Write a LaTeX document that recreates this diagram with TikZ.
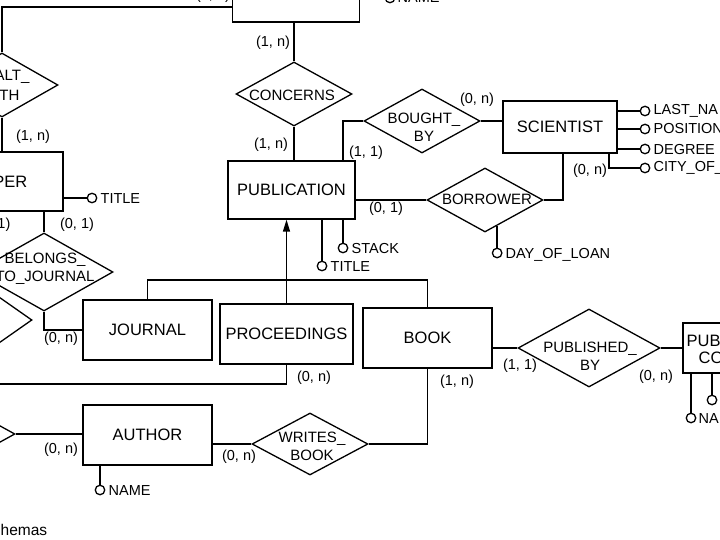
\documentclass[tikz,border=0pt]{standalone}
\usepackage{fontspec}
\setmainfont{Liberation Sans}
\usetikzlibrary{shapes.geometric,arrows.meta,calc}
\begin{document}
\begin{tikzpicture}[x=1pt,y=-1pt,line width=1.3pt,
  ent/.style n args={2}{draw,rectangle,minimum width=#1,minimum height=#2,inner sep=0pt,font=\fontsize{16.5}{18}\selectfont},
  rel/.style n args={2}{draw,diamond,minimum width=#1,minimum height=#2,inner sep=0pt},
  rtext/.style={font=\fontsize{15}{18}\selectfont,align=center,inner sep=0pt},
  etext/.style={font=\fontsize{16.5}{18}\selectfont,inner sep=0pt},
  card/.style={font=\fontsize{14.5}{16}\selectfont,inner sep=0pt},
  atxt/.style={font=\fontsize{14.5}{16}\selectfont,inner sep=0pt,anchor=west},
  att/.style={draw,circle,fill=white,inner sep=0pt,minimum size=9.5pt,line width=1.3pt},
]
\useasboundingbox (0,0) rectangle (720,540);

% entities
\node[ent={127}{58}] (topbox) at (296,-7) {};
\node[ent={122}{59}] (per) at (2,181.5) {};
\node[etext,anchor=east] (pert) at (28,182) {PER};
\node[ent={127}{58}] (pub) at (291.5,190) {PUBLICATION};
\node[ent={114}{52}] (sci) at (560,127) {SCIENTIST};
\node[ent={129}{60}] (jour) at (147.5,330) {JOURNAL};
\node[ent={133}{60}] (proc) at (286.5,334) {PROCEEDINGS};
\node[ent={129}{60}] (book) at (427.5,338) {BOOK};
\node[ent={129}{60}] (auth) at (147.5,435) {AUTHOR};
\node[ent={130}{50}] (pubco) at (748,348) {};
\node[etext,anchor=west] (pubcot1) at (686,341) {PUB};
\node[etext,anchor=west] (pubcot2) at (698,358) {CO};

% relationships
\node[rel={112}{64}] (alt) at (2,85) {};
\node[rtext,anchor=east] (altt1) at (30,77) {ALT\_};
\node[rtext,anchor=east] (altt2) at (20,95) {TH};
\node[rel={116}{64}] (conc) at (294,94) {};
\node[rtext] (conct) at (292,95) {CONCERNS};
\node[rel={116}{64}] (bought) at (422,121) {};
\node[rtext] (boughtt) at (424,127) {BOUGHT\_\\BY};
\node[rel={116}{64}] (borrow) at (485,200) {};
\node[rtext] (borrowt) at (487,199) {BORROWER};
\node[rel={138}{78}] (belongs) at (44,272) {};
\node[rtext] (belongst) at (45,269) {BELONGS\_\\TO\_JOURNAL};
\node[rel={94}{66}] (bl2) at (-15,320) {};
\node[rel={116}{64}] (bl3) at (-43,434) {};
\node[rel={142}{78}] (publ) at (589,348) {};
\node[rtext] (publt) at (590,356) {PUBLISHED\_\\BY};
\node[rel={116}{62}] (writes) at (310,444) {};
\node[rtext] (writest) at (312,446) {WRITES\_\\BOOK};

% connectors
\draw (alt.north) |- (topbox.west |- 0,7);
\draw (alt.south) -- (alt.south |- per.north);
\draw (belongs.north |- per.south) -- (belongs.north);
\draw (belongs.south) |- (jour.west);
\draw (bl3.east) -- (bl3.east -| auth.west);
\coordinate (pl) at (-10,384);
\draw (proc.south) |- (pl);
\coordinate (gen) at (proc.north |- 0,280);
\draw (jour.north) |- (gen) -| (book.north);
\draw[-{Triangle[length=12pt,width=7pt]}] (proc.north) -- (proc.north |- pub.south);
\draw (conc.north) -- (conc.north |- topbox.south);
\draw (conc.south) -- (conc.south |- pub.north);
\draw (343,0 |- pub.north) |- (bought.west);
\draw (bought.east) -- (bought.east -| sci.west);
\draw (borrow.west -| pub.east) -- (borrow.west);
\draw (borrow.east) -| (563,0 |- sci.south);
\draw (publ.west -| book.east) -- (publ.west);
\draw (publ.east) -- (publ.east -| pubco.west);
\draw (writes.west -| auth.east) -- (writes.west);
\draw (writes.east) -| (book.south);

% attributes
\node[att] (tname) at (390,-2) {};
\draw (topbox.east |- tname) -- (tname);
\node[atxt] (tnamet) at (397,-2) {NAME};
\node[att] (ptitle0) at (92,198) {};
\draw (per.east |- ptitle0) -- (ptitle0);
\node[atxt] (ptitle0t) at (100,199) {TITLE};
\node[att] (pstack) at (343,248) {};
\draw (pstack |- pub.south) -- (pstack);
\node[atxt] (pstackt) at (351,249) {STACK};
\node[att] (ptitle) at (322,266) {};
\draw (ptitle |- pub.south) -- (ptitle);
\node[atxt] (ptitlet) at (330,267) {TITLE};
\node[att] (sa1) at (645,111) {};
\draw (sci.east |- sa1) -- (sa1);
\node[atxt] (sa1t) at (653,111) {LAST\_NA};
\node[att] (sa2) at (645,129) {};
\draw (sci.east |- sa2) -- (sa2);
\node[atxt] (sa2t) at (653,129) {POSITION};
\node[att] (sa3) at (645,149) {};
\draw (sci.east |- sa3) -- (sa3);
\node[atxt] (sa3t) at (653,150) {DEGREE};
\node[att] (sa4) at (645,168) {};
\draw (609,0 |- sci.south) |- (sa4);
\node[atxt] (sa4t) at (653,168) {CITY\_OF\_};
\coordinate (bd) at ($(borrow.south)!0.207!(borrow.east)$);
\node[att] (day) at (bd |- 0,253) {};
\draw (bd) -- (day);
\node[atxt] (dayt) at (505,255) {DAY\_OF\_LOAN};
\node[att] (pcn) at (691,418) {};
\draw (pcn |- pubco.south) -- (pcn);
\node[atxt] (pcnt) at (698,419) {NA};
\node[att] (pca) at (712,400) {};
\draw (pca |- pubco.south) -- (pca);
\node[att] (aname) at (100,490) {};
\draw (aname |- auth.south) -- (aname);
\node[atxt] (anamet) at (108,491) {NAME};

% cardinalities
\node[card] at (213,-4) {(1, n)};
\node[card] at (273,43) {(1, n)};
\node[card] at (271,145) {(1, n)};
\node[card] at (366,153) {(1, 1)};
\node[card] at (477,100) {(0, n)};
\node[card] at (590,171) {(0, n)};
\node[card] at (386,209) {(0, 1)};
\node[card] at (33,137) {(1, n)};
\node[card] at (77,225) {(0, 1)};
\node[card,anchor=east] at (11,225) {1)};
\node[card] at (61,339) {(0, n)};
\node[card] at (314,378) {(0, n)};
\node[card] at (457,382) {(1, n)};
\node[card] at (520,366) {(1, 1)};
\node[card] at (656,377) {(0, n)};
\node[card] at (61,450) {(0, n)};
\node[card] at (239,457) {(0, n)};

\node[anchor=west,inner sep=0pt,font=\fontsize{15.5}{18}\selectfont] (cap) at (0,530) {hemas};
\end{tikzpicture}
\end{document}
